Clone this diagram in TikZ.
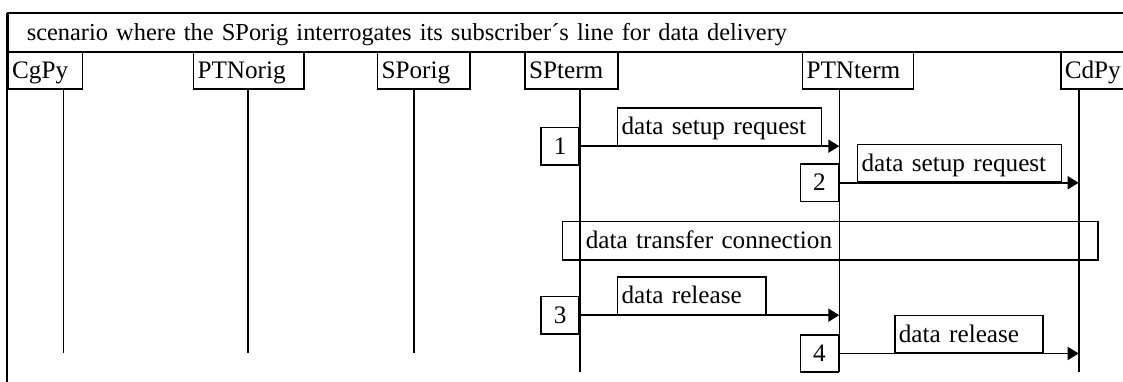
\documentclass[tikz,border=0pt]{standalone}
\usepackage{fontspec}
\setmainfont{Liberation Serif}
\usetikzlibrary{arrows.meta}

\begin{document}
\begin{tikzpicture}[>={Triangle[length=5.5pt,width=6.5pt]},x=0.5pt,y=-0.5pt,line width=0.8pt,
		box/.style={draw,font=\fontsize{12.6pt}{15pt}\selectfont,inner ysep=0pt,text height=11pt,text depth=3pt,align=left},
		hdr/.style={box,anchor=north west,minimum height=18.65pt,inner xsep=2pt},
		num/.style={box,anchor=north east,minimum width=19pt,minimum height=18.65pt,inner xsep=0pt},
		lbl/.style={box,anchor=south west,minimum height=18.65pt,inner xsep=2pt},
		msg/.style={->}]
		\clip (0,0) rectangle (1123,381);
		% frame and title
		\node[box,font=\fontsize{12.2pt}{15pt}\selectfont,anchor=north west,minimum height=19.15pt,inner xsep=9.35pt,text width=560pt] (title) at (7.3,12.7) {scenario where the SPorig interrogates its subscriber´s line for data delivery};
		\draw[line width=1.1pt] (title.north west) -- (title.north east);
		\coordinate (frameEnd) at (7.3,400);
		\draw[line width=1pt] (title.north west) -- (frameEnd);
		% instances
		\node[hdr,text width=33.2pt] (cgpy) at (7.3,51) {CgPy};
		\node[hdr,text width=51.3pt] (ptnorig) at (192.7,51) {PTNorig};
		\node[hdr,text width=42.3pt] (sporig) at (376.7,51) {SPorig};
		\node[hdr,text width=42.5pt] (spterm) at (524.3,51) {SPterm};
		\node[hdr,text width=51.5pt] (ptnterm) at (801.7,51) {PTNterm};
		\node[hdr,text width=33.2pt] (cdpy) at (1060,51) {CdPy};
		% lifelines
		\foreach \n/\x/\e in {cgpy/63.3/353.3,ptnorig/247.7/353.3,sporig/414/353.3,spterm/580/371.7,ptnterm/839.3/371.7,cdpy/1078.7/371.7}{
			\coordinate (\n Top) at (\x,88.3);
			\coordinate (\n Bot) at (\x,\e);
			\draw (\n Top) -- (\n Bot);
		}
		% data setup
		\node[num] (m1) at (sptermTop |- 0,126.7) {1};
		\draw[msg] (m1.east) -- (m1.east -| ptntermTop);
		\node[lbl,text width=98pt] (l1) at ([xshift=18.35pt]m1.east) {data setup request};
		\node[num] (m2) at (ptntermTop |- 0,163.3) {2};
		\draw[msg] (m2.east) -- (m2.east -| cdpyTop);
		\node[lbl,text width=98pt] (l2) at ([xshift=8.7pt]m2.east) {data setup request};
		% connection
		\node[box,anchor=north west,minimum height=19.15pt,inner xsep=11.65pt,text width=244.5pt] (xfer) at (561.7,220.7) {data transfer connection};
		% data release
		\node[num] (m3) at (sptermTop |- 0,295.7) {3};
		\draw[msg] (m3.east) -- (m3.east -| ptntermTop);
		\node[lbl,text width=70.15pt] (l3) at ([xshift=18.35pt]m3.east) {data release};
		\node[num] (m4) at (ptntermTop |- 0,334) {4};
		\draw[msg] (m4.east) -- (m4.east -| cdpyTop);
		\node[lbl,text width=70.15pt] (l4) at ([xshift=27.35pt]m4.east) {data release};
\end{tikzpicture}
\end{document}
